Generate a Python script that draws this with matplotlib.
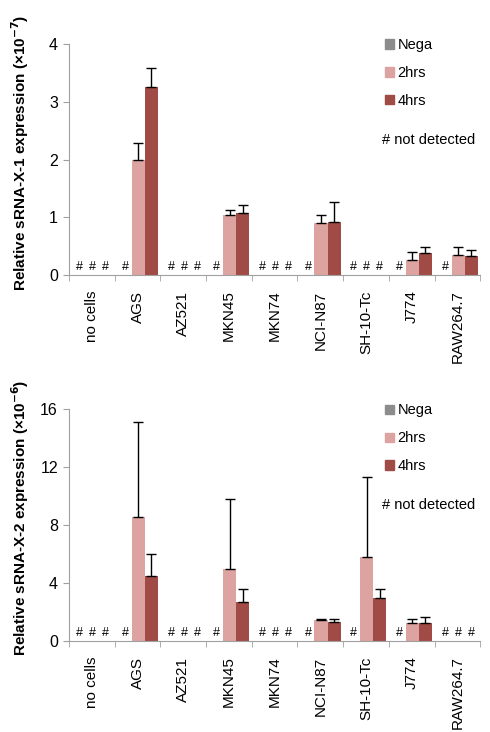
import numpy as np
import matplotlib
matplotlib.use("Agg")
import matplotlib.pyplot as plt
from matplotlib.patches import Patch

plt.rcParams['font.family'] = ['Liberation Sans', 'DejaVu Sans']

cells = ["no cells", "AGS", "AZ521", "MKN45", "MKN74", "NCI-N87", "SH-10-Tc", "J774", "RAW264.7"]
series = ["Nega", "2hrs", "4hrs"]
colors = ["#8c8c8c", "#dca3a1", "#a04b45"]

# sRNA-X-1 (x10^-7), None = not detected
x1_nega = [None] * 9
x1_2hrs = [None, 1.99, None, 1.04, None, 0.90, None, 0.26, 0.35]
x1_4hrs = [None, 3.25, None, 1.07, None, 0.92, None, 0.38, 0.33]
x1_2hrs_err = [0, 0.29, 0, 0.08, 0, 0.15, 0, 0.14, 0.13]
x1_4hrs_err = [0, 0.33, 0, 0.14, 0, 0.34, 0, 0.10, 0.10]

# sRNA-X-2 (x10^-6)
x2_nega = [None] * 9
x2_2hrs = [None, 8.55, None, 4.97, None, 1.45, 5.80, 1.24, None]
x2_4hrs = [None, 4.48, None, 2.70, None, 1.30, 2.97, 1.24, None]
x2_2hrs_err = [0, 6.55, 0, 4.83, 0, 0.10, 5.50, 0.31, 0]
x2_4hrs_err = [0, 1.52, 0, 0.90, 0, 0.25, 0.63, 0.41, 0]


def draw(ax, vals, errs, ymax, yticks, ylabel):
    x = np.arange(len(cells))
    w = 0.285
    offs = [-w, 0, w]
    handles = []
    for i, (v, c) in enumerate(zip(vals, colors)):
        h = [0 if a is None else a for a in v]
        pos = x + offs[i] + 0.015
        ax.bar(pos, h, width=w, color=c, edgecolor='none', zorder=2)
        handles.append(Patch(color=c, label=series[i]))
        if errs[i] is not None:
            e = np.array(errs[i])
            m = e > 0
            ax.errorbar(pos[m], np.array(h)[m], yerr=[np.zeros(m.sum()), e[m]],
                        fmt='none', ecolor='black', elinewidth=1.0, capsize=3.5,
                        capthick=1.0, zorder=3)
        for p, a in zip(pos, v):
            if a is None:
                ax.text(p, ymax * 0.008, "#", ha='center', va='bottom', fontsize=9)
    ax.set_xlim(-0.5, len(cells) - 0.5)
    ax.set_ylim(0, ymax)
    ax.set_yticks(yticks)
    ax.set_xticks(x)
    ax.set_xticklabels(cells, rotation=90, fontsize=11)
    ax.set_xticks(np.arange(-0.5, len(cells), 1.0), minor=True)
    ax.tick_params(axis='x', which='major', length=0, pad=11)
    ax.tick_params(axis='x', which='minor', length=4, color='#a0a0a0')
    ax.tick_params(axis='y', length=4, color='#a0a0a0', labelsize=11.5, pad=4)
    for s in ['top', 'right']:
        ax.spines[s].set_visible(False)
    for s in ['left', 'bottom']:
        ax.spines[s].set_color('#a0a0a0')
    ax.set_ylabel(ylabel, fontsize=11, fontweight='bold')
    ax.yaxis.set_label_coords(-0.092, 0.53)
    ax.legend(handles=handles, loc='upper left', bbox_to_anchor=(0.755, 1.05),
              frameon=False, fontsize=10.5, handlelength=0.6, handleheight=0.6,
              handletextpad=0.25, labelspacing=0.95, borderaxespad=0)
    ax.text(0.762, 0.585, "# not detected", transform=ax.transAxes, fontsize=10.5,
            ha='left', va='center')


fig = plt.figure(figsize=(4.9, 7.32), dpi=100)
ax1 = fig.add_axes([0.141, 0.624, 0.839, 0.316])
ax2 = fig.add_axes([0.141, 0.124, 0.839, 0.317])

draw(ax1, [x1_nega, x1_2hrs, x1_4hrs], [None, x1_2hrs_err, x1_4hrs_err], 4, [0, 1, 2, 3, 4],
     r"Relative sRNA-X-1 expression (×10$^{\mathbf{-7}}$)")
draw(ax2, [x2_nega, x2_2hrs, x2_4hrs], [None, x2_2hrs_err, x2_4hrs_err], 16, [0, 4, 8, 12, 16],
     r"Relative sRNA-X-2 expression (×10$^{\mathbf{-6}}$)")

fig.savefig("out.png", dpi=100)
